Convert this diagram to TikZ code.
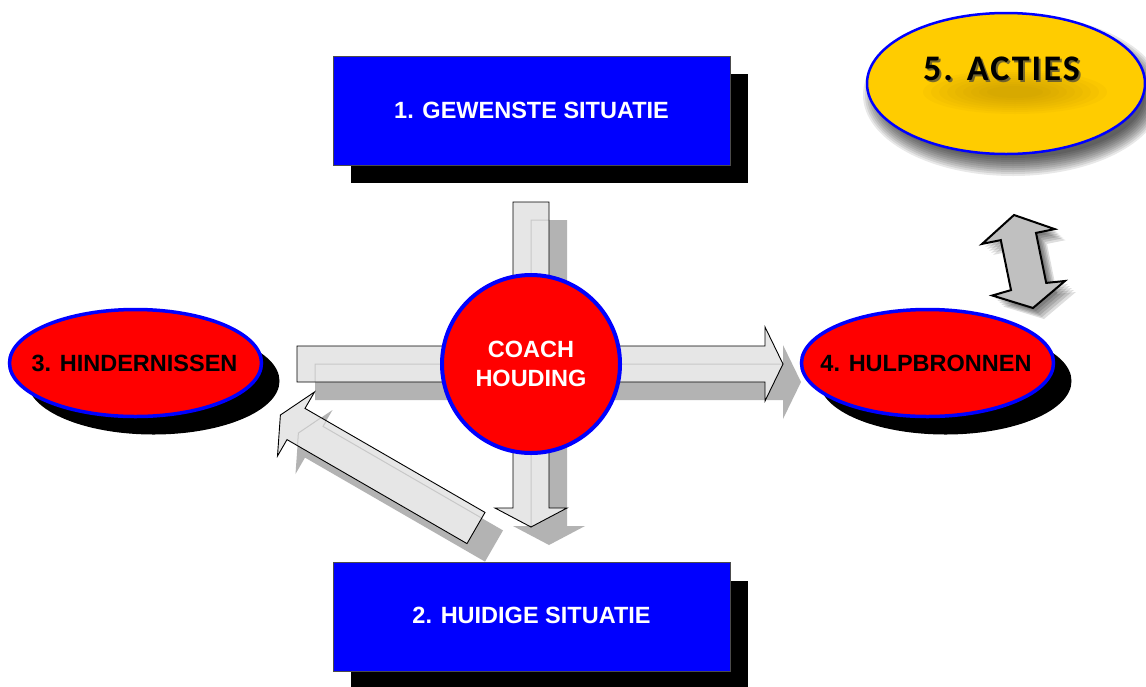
\documentclass[tikz,border=0pt]{standalone}
\usepackage{fontspec}
\setmainfont{Liberation Sans}
\newfontfamily\actfont[LetterSpace=6]{Carlito}
\usetikzlibrary{shapes.geometric,shadows}

\definecolor{boxblue}{HTML}{0000FF}
\definecolor{gold}{HTML}{FFCC00}
\definecolor{goldglow}{HTML}{A07800}
\definecolor{arrowfill}{HTML}{E6E6E6}
\definecolor{arrowshade}{HTML}{B3B3B3}
\definecolor{ghost}{HTML}{C8C8C8}
\definecolor{dblgray}{HTML}{C0C0C0}

% block arrow outlines (1 unit = 1pt, y grows downwards)
\newcommand\hArrowPath{(297,346) -- (765,346) -- (765,327) -- (783,364) -- (765,401) -- (765,382) -- (297,382) -- cycle}
\newcommand\vArrowPath{(513,202) -- (549,202) -- (549,508) -- (567,508) -- (531,527) -- (495,508) -- (513,508) -- cycle}
\newcommand\dArrowPath{(485,512.4) -- (305,408.4) -- (314.5,392) -- (280.4,415) -- (277.5,456) -- (287,439.6) -- (467,543.6) -- cycle}
\newcommand\twoWayPath{(1014,215) -- (1054.7,229.1) -- (1036,232.9) -- (1046.2,282.9) -- (1064.9,281) -- (1033,308) -- (992.3,295.5) -- (1011,290.1) -- (1000.8,240.1) -- (982.1,243.9) -- cycle}

% flat block arrow with offset shadow showing faintly through it
\newcommand\blockarrow[1]{%
  \begin{scope}[shift={(18,18)}]\fill[arrowshade] #1;\end{scope}
  \fill[arrowfill] #1;
  \begin{scope}
    \clip #1;
    \begin{scope}[shift={(18,18)}]\draw[ghost, line width=1pt] #1;\end{scope}
  \end{scope}
  \draw[black, line width=0.9pt, line join=miter] #1;}

\begin{document}
\begin{tikzpicture}[x=1pt, y=-1pt,
  lbl/.style={font=\fontsize{23.5}{29}\selectfont\bfseries, align=center, inner sep=0pt},
  hardshadow/.style={general shadow={fill=black, shadow xshift=18pt, shadow yshift=-18pt}},
  bluebox/.style={rectangle, fill=boxblue, draw=black!70, line width=0.8pt,
    minimum width=397pt, minimum height=109pt, inner sep=0pt, hardshadow},
  redoval/.style={ellipse, fill=red, draw=boxblue, line width=3.5pt,
    minimum width=252pt, minimum height=107pt, inner sep=0pt, hardshadow},
]
\useasboundingbox (0,0) rectangle (1146,686);
\fill[white] (0,0) rectangle (1146,686);

% goal and current situation boxes
\node[bluebox] (goal) at (531.5,110.5) {};
\node[lbl, text=white] (goal-t) at (goal.center) {1. GEWENSTE SITUATIE};
\node[bluebox] (now) at (531.5,617) {};
\node[lbl, text=white] (now-t) at (531.5,615) {2. HUIDIGE SITUATIE};

% obstacles and resources ovals
\node[redoval] (obst) at (135.5,363) {};
\node[lbl] (obst-t) at (134.5,363) {3. HINDERNISSEN};
\node[redoval] (res) at (927.5,363) {};
\node[lbl] (res-t) at (926,363) {4. HULPBRONNEN};

% block arrows through the centre
\blockarrow{\hArrowPath}
\blockarrow{\vArrowPath}
\blockarrow{\dArrowPath}

% central attitude circle
\node[circle, fill=red, draw=boxblue, line width=4pt, minimum size=178pt,
  inner sep=0pt, text=white, lbl] (coach) at (531,364) {COACH\\HOUDING};

% soft shadow of the actions oval
\foreach \i in {0,...,9}{
  \fill[black, opacity=0.09] (1013,95) ellipse [x radius={150-2*\i}, y radius={81-2*\i}];
}

% actions oval with its inner glow
\node[ellipse, fill=gold, draw=boxblue, line width=2.5pt, minimum width=278pt,
  minimum height=141pt, inner sep=0pt] (act) at (1006,83.5) {};
\begin{scope}
  \clip (1006,83.5) ellipse [x radius=137, y radius=69];
  \foreach \i in {0,...,8}{
    \fill[goldglow, opacity=0.05] (1015,92) ellipse [x radius={92-8*\i}, y radius={22-2*\i}];
  }
\end{scope}
\node[font=\actfont\bfseries\fontsize{36}{40}\selectfont, text=black!75, opacity=0.7,
  inner sep=0pt] (act-s) at (1003.5,70.5) {5. ACTIES};
\node[font=\actfont\bfseries\fontsize{36}{40}\selectfont, text=black,
  inner sep=0pt] (act-t) at (1001.5,68.5) {5. ACTIES};

% two-way arrow between resources and actions, with a soft shadow
\foreach \d in {3,5,7,9,11}{
  \begin{scope}[shift={(\d,\d)}]
    \fill[black, opacity=0.13] \twoWayPath;
  \end{scope}
}
\fill[dblgray] \twoWayPath;
\draw[black, line width=2pt, line join=miter] \twoWayPath;
\end{tikzpicture}
\end{document}
